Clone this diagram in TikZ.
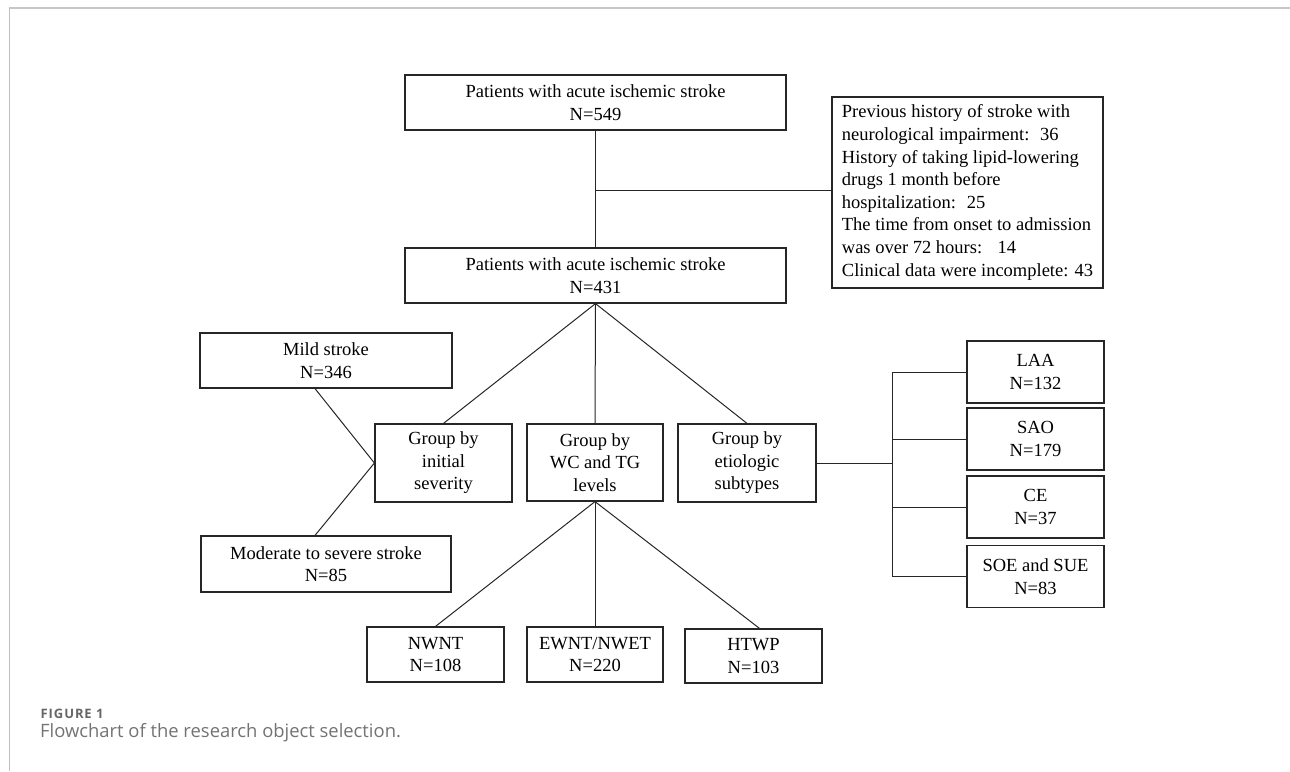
\documentclass[tikz,border=0pt]{standalone}
\usepackage{fontspec}
\setmainfont{Liberation Serif}
\newfontfamily\capfont{Open Sans}
\newfontfamily\capfontwide[LetterSpace=7]{Open Sans}

\def\fs{\fontsize{18.5}{22.5}\selectfont}

\tikzset{
  box/.style={draw=black!85, line width=1.2pt, align=center, inner sep=0pt, font=\fs},
  link/.style={draw=black!85, line width=1pt},
}

\begin{document}
\begin{tikzpicture}[x=1pt, y=-1pt]
      \useasboundingbox (0,0) rectangle (1290,771);
      \draw[black!22, line width=1.6pt] (9,8) -- (1290,8);
      \draw[black!25, line width=0.8pt] (9,8) -- (9,771);

      \node[box, minimum width=381pt, minimum height=55pt] (all) at (595.5,102.5) {Patients with acute ischemic stroke\\N=549};
      \node[box, minimum width=381pt, minimum height=55pt] (sub) at (595.5,275.5) {Patients with acute ischemic stroke\\N=431};
      \node[box, align=left, minimum width=271pt, minimum height=191pt, font=\fontsize{18.5}{22.6}\selectfont] (excl) at (967.5,192.5) {Previous history of stroke with\\neurological impairment:~ 36\\History of taking lipid-lowering\\drugs 1 month before\\hospitalization:~ 25\\The time from onset to admission\\was over 72 hours:~~ 14\\Clinical data were incomplete: 43};

      \node[box, minimum width=252pt, minimum height=55pt] (mild) at (326,360.5) {Mild stroke\\N=346};
      \node[box, minimum width=250pt, minimum height=56pt] (mod) at (326,564) {Moderate to severe stroke\\N=85};
      \node[box, minimum width=137pt, minimum height=78pt] (sev) at (443.5,463) {Group by\\initial\\severity};
      \node[box, minimum width=136pt, minimum height=77pt] (wctg) at (595,462.5) {Group by\\WC and TG\\levels};
      \node[box, minimum width=138pt, minimum height=78pt] (etio) at (747,463) {Group by\\etiologic\\subtypes};

      \node[box, minimum width=137pt, minimum height=55pt] (nwnt) at (435.5,654.5) {NWNT\\N=108};
      \node[box, minimum width=136pt, minimum height=55pt] (ewnt) at (595,654.5) {EWNT/NWET\\N=220};
      \node[box, minimum width=137pt, minimum height=54pt] (htwp) at (753.5,656) {HTWP\\N=103};

      \node[box, minimum width=137pt, minimum height=62pt] (laa) at (1035.5,372) {LAA\\N=132};
      \node[box, minimum width=137pt, minimum height=62pt] (sao) at (1035.5,439) {SAO\\N=179};
      \node[box, minimum width=137pt, minimum height=62pt] (ce) at (1035.5,507) {CE\\N=37};
      \node[box, minimum width=137pt, minimum height=62pt] (soe) at (1035.5,576.5) {SOE and SUE\\N=83};

      \coordinate (split) at (595.5,190);
      \coordinate (fork) at (892,463);

      \draw[link] (all.south) -- (sub.north);
      \draw[link] (split) -- (split -| excl.west);
      \draw[link] (sub.south) -- (sev.north);
      \draw[link] (sub.south) -- (wctg.north);
      \draw[link] (sub.south) -- (etio.north);
      \draw[link] ([xshift=-11pt]mild.south) -- (sev.west) -- ([xshift=-11pt]mod.north);
      \draw[link] (wctg.south) -- (nwnt.north);
      \draw[link] (wctg.south) -- (ewnt.north);
      \draw[link] (wctg.south) -- ([xshift=6pt]htwp.north);
      \draw[link] (etio.east) -- (fork);
      \draw[link] (fork |- laa.west) -- (fork |- soe.west);
      \foreach \b in {laa,sao,ce,soe}
        \draw[link] (fork |- \b.west) -- (\b.west);

      \node[anchor=base west, inner sep=0pt, text=black!60, font={\fontsize{13}{16}\capfontwide\bfseries}] (fig) at (40.5,718) {FIGURE 1};
      \node[anchor=base west, inner sep=0pt, text=black!55, font={\fontsize{18.4}{20}\capfont}] (cap) at (40,737) {Flowchart of the research object selection.};
\end{tikzpicture}
\end{document}
